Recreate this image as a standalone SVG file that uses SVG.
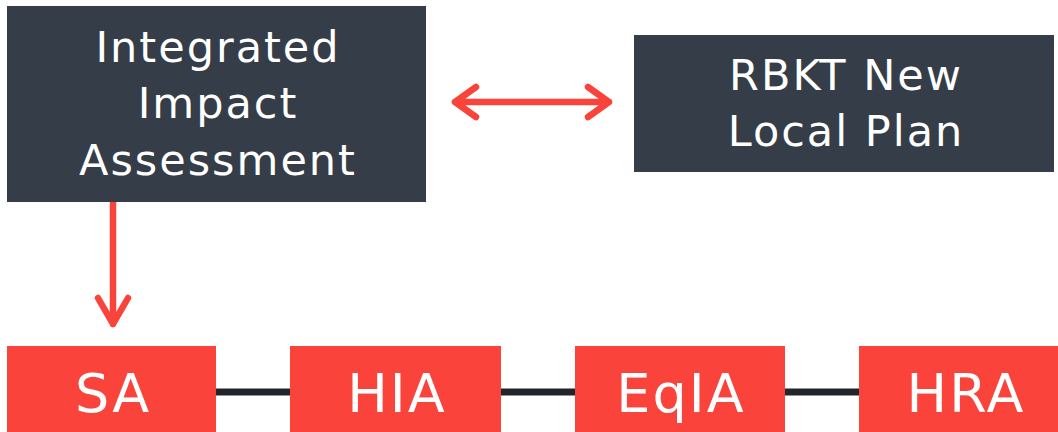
<svg xmlns="http://www.w3.org/2000/svg" width="1058" height="432" viewBox="0 0 1058 432">
<style>
.dark{fill:#343d48}
.red{fill:#f9433b}
.t{font-family:"DejaVu Sans",sans-serif;fill:#ffffff;text-anchor:middle}
.tl{font-size:43px;letter-spacing:2px}
.ts{font-size:54px;letter-spacing:2px}
.arr{fill:none;stroke:#f9433b;stroke-width:6.5;stroke-linecap:round;stroke-linejoin:round}
.link{stroke:#212529;stroke-width:7}
</style>
<rect width="1058" height="432" fill="#ffffff"/>
<g id="connectors">
<line class="link" x1="216" y1="392" x2="290" y2="392"/>
<line class="link" x1="501" y1="392" x2="575" y2="392"/>
<line class="link" x1="785" y1="392" x2="859" y2="392"/>
<path class="arr" d="M455 102H609M476 87L455 102L476 117M588 87L609 102L588 117"/>
<path class="arr" d="M113 202V324M98 298L113 324L128 298"/>
</g>
<g id="iia">
<rect class="dark" x="7" y="6" width="419" height="196"/>
<text class="t tl" x="218" y="62">Integrated</text>
<text class="t tl" x="218" y="118">Impact</text>
<text class="t tl" x="218" y="175">Assessment</text>
</g>
<g id="rbkt">
<rect class="dark" x="634" y="35" width="420" height="137"/>
<text class="t tl" x="846" y="90">RBKT New</text>
<text class="t tl" x="846" y="146">Local Plan</text>
</g>
<g id="sa">
<rect class="red" x="7" y="346" width="209" height="90"/>
<text class="t ts" x="113" y="412">SA</text>
</g>
<g id="hia">
<rect class="red" x="290" y="346" width="211" height="90"/>
<text class="t ts" x="397" y="412">HIA</text>
</g>
<g id="eqia">
<rect class="red" x="575" y="346" width="210" height="90"/>
<text class="t ts" x="681" y="412">EqIA</text>
</g>
<g id="hra">
<rect class="red" x="859" y="346" width="212" height="90"/>
<text class="t ts" x="966" y="412">HRA</text>
</g>
</svg>
